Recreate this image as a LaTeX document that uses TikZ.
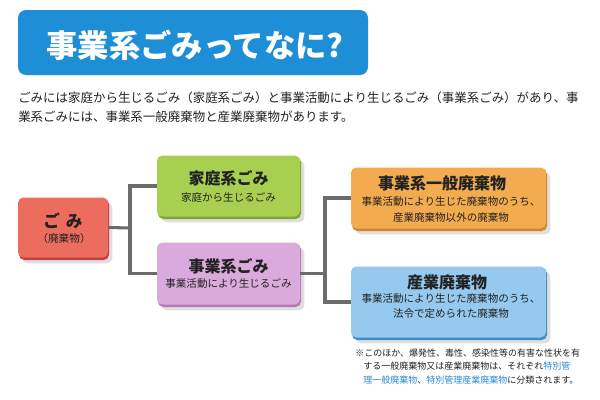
\documentclass[tikz,border=0pt]{standalone}
\usepackage{fontspec}
\setmainfont{Noto Sans CJK JP}
\usetikzlibrary{shadows,calc}
\definecolor{bannerblue}{HTML}{1E8ED6}
\definecolor{txt}{HTML}{222222}
\definecolor{linegray}{HTML}{6B6B6B}
\definecolor{redf}{HTML}{EC6C5E}\definecolor{rede}{HTML}{C63F48}
\definecolor{greenf}{HTML}{A9CF50}\definecolor{greene}{HTML}{7EA634}
\definecolor{purplef}{HTML}{D9AADB}\definecolor{purplee}{HTML}{B27BB7}
\definecolor{orangef}{HTML}{F2AB4E}\definecolor{orangee}{HTML}{D4852A}
\definecolor{bluef}{HTML}{95C9EE}\definecolor{bluee}{HTML}{3D8ED0}
\definecolor{notebl}{HTML}{2A8BD8}
\tikzset{
  boxbase/.style={rounded corners=4pt, inner sep=0pt, draw=none},
  boxedge/.style={boxbase, drop shadow={opacity=0.25, shadow xshift=2.5pt, shadow yshift=-2.5pt}},
  conn/.style={draw=linegray, line width=2.3pt},
  lbl/.style={inner sep=0pt, text=txt},
}
\begin{document}
\begin{tikzpicture}[x=0.75pt,y=-0.75pt]
\useasboundingbox (0,0) rectangle (600,400);
\fill[white] (0,0) rectangle (600,400);

% banner
\node[boxbase, rounded corners=6pt, fill=bannerblue, minimum width=350*0.75pt, minimum height=65*0.75pt] (banner) at (193,42.5) {};
\node[inner sep=0pt, text=white, font=\fontsize{23.5pt}{25pt}\bfseries] (title) at (195,45) {事業系ごみってなに?};

% paragraph
\node[lbl, anchor=west, font=\fontsize{9.35pt}{11pt}\selectfont] (p1) at (18,98) {ごみには家庭から生じるごみ（家庭系ごみ）と事業活動により生じるごみ（事業系ごみ）があり、事};
\node[lbl, anchor=west, font=\fontsize{9.35pt}{11pt}\selectfont] (p2) at (18,117) {業系ごみには、事業系一般廃棄物と産業廃棄物があります。};

% junctions
\coordinate (j1) at (130,228);
\coordinate (j2) at (325,273.5);

% box edges (darker) and boxes
\node[boxedge, fill=rede, minimum width=90*0.75pt, minimum height=61*0.75pt] (gomiE) at (64,229.5) {};
\node[boxbase, fill=redf, minimum width=90*0.75pt, minimum height=60*0.75pt] (gomi) at (63,227.5) {};

\node[boxedge, fill=greene, minimum width=143*0.75pt, minimum height=62*0.75pt] (kateiE) at (229.5,188) {};
\node[boxbase, fill=greenf, minimum width=143*0.75pt, minimum height=61*0.75pt] (katei) at (228.5,186) {};

\node[boxedge, fill=purplee, minimum width=143*0.75pt, minimum height=63*0.75pt] (jigyoE) at (229.5,275.5) {};
\node[boxbase, fill=purplef, minimum width=143*0.75pt, minimum height=62*0.75pt] (jigyo) at (228.5,273.5) {};

\node[boxedge, fill=orangee, minimum width=195*0.75pt, minimum height=62*0.75pt] (ippanE) at (449.5,200) {};
\node[boxbase, fill=orangef, minimum width=195*0.75pt, minimum height=61*0.75pt] (ippan) at (448.5,198) {};

\node[boxedge, fill=bluee, minimum width=195*0.75pt, minimum height=72*0.75pt] (sangyoE) at (449.5,304) {};
\node[boxbase, fill=bluef, minimum width=195*0.75pt, minimum height=71*0.75pt] (sangyo) at (448.5,302) {};

% connectors
\draw[conn] (gomi.east) -- (j1);
\draw[conn] (katei.west) -| (j1);
\draw[conn] (jigyo.west) -| (j1);
\draw[conn] (jigyo.east) -- (j2);
\draw[conn] (ippan.west) -| (j2);
\draw[conn] (sangyo.west) -| (j2);

% box texts
\node[lbl, font=\fontsize{12.5pt}{14pt}\bfseries] (t-gomi) at (63,221) {ご\hspace{0.35em}み};
\node[lbl, font=\fontsize{8pt}{9pt}\selectfont] (s-gomi) at (64,238) {（廃棄物）};

\node[lbl, font=\fontsize{12pt}{14pt}\bfseries] (t-katei) at (228.5,178) {家庭系ごみ};
\node[lbl, font=\fontsize{7.9pt}{9pt}\selectfont] (s-katei) at (228.5,197.5) {家庭から生じるごみ};

\node[lbl, font=\fontsize{12pt}{14pt}\bfseries] (t-jigyo) at (228.5,266) {事業系ごみ};
\node[lbl, font=\fontsize{7.9pt}{9pt}\selectfont] (s-jigyo) at (228.5,284) {事業活動により生じるごみ};

\node[lbl, font=\fontsize{12pt}{14pt}\bfseries] (t-ippan) at (442,183) {事業系一般廃棄物};
\node[lbl, font=\fontsize{7.9pt}{9pt}\selectfont] (s1-ippan) at (451,202) {事業活動により生じた廃棄物のうち、};
\node[lbl, font=\fontsize{7.9pt}{9pt}\selectfont] (s2-ippan) at (451,217.5) {産業廃棄物以外の廃棄物};

\node[lbl, font=\fontsize{12pt}{14pt}\bfseries] (t-sangyo) at (447,282) {産業廃棄物};
\node[lbl, font=\fontsize{7.9pt}{9pt}\selectfont] (s1-sangyo) at (451,298.5) {事業活動により生じた廃棄物のうち、};
\node[lbl, font=\fontsize{7.9pt}{9pt}\selectfont] (s2-sangyo) at (451,313.5) {法令で定められた廃棄物};

% footnote
\node[lbl, anchor=west, font=\fontsize{6.75pt}{8pt}\selectfont] (n1) at (355,353) {※このほか、爆発性、毒性、感染性等の有害な性状を有};
\node[lbl, anchor=west, font=\fontsize{6.75pt}{8pt}\selectfont] (n2) at (363,366.5) {する一般廃棄物又は産業廃棄物は、それぞれ\textcolor{notebl}{特別管}};
\node[lbl, anchor=west, font=\fontsize{6.75pt}{8pt}\selectfont] (n3) at (363,380) {\textcolor{notebl}{理一般廃棄物}、\textcolor{notebl}{特別管理産業廃棄物}に分類されます。};
\end{tikzpicture}
\end{document}
